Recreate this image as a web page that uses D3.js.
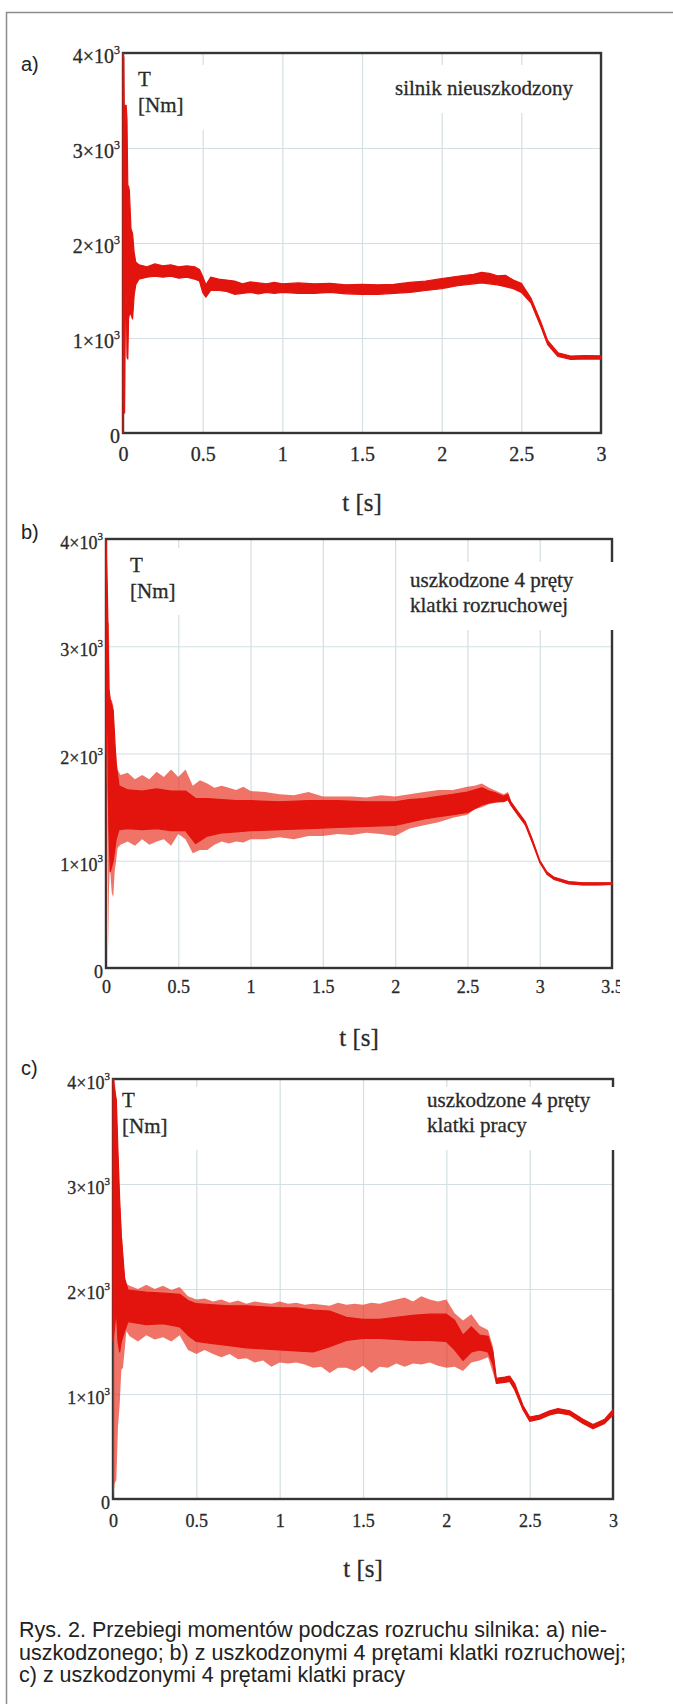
<!DOCTYPE html>
<html>
<head>
<meta charset="utf-8">
<script src="https://cdn.jsdelivr.net/npm/d3@7"></script>
<style>
  body { margin: 0; background: #fff; }
  svg { display: block; }
  .serif { font-family: 'Liberation Serif', 'Times New Roman', serif; fill: #2a2a2a; stroke: #2a2a2a; stroke-width: 0.3px; }
</style>
</head>
<body>
<div id="chart"></div>
<script>
// ---- data (torque T in Nm vs time t in s) ----
const yTicks = [0, 1000, 2000, 3000, 4000];
const yTickBase = ["0", "1×10", "2×10", "3×10", "4×10"];
const yTickExp = ["", "3", "3", "3", "3"];

const xTicks3 = [0, 0.5, 1, 1.5, 2, 2.5, 3];
const xLabels3 = ["0", "0.5", "1", "1.5", "2", "2.5", "3"];
const xTicks35 = [0, 0.5, 1, 1.5, 2, 2.5, 3, 3.5];
const xLabels35 = ["0", "0.5", "1", "1.5", "2", "2.5", "3", "3.5"];

// a) healthy motor: band (upper / lower edge of the trace)
const tA = [0, 0.005, 0.01, 0.015, 0.02, 0.025, 0.03, 0.035, 0.04, 0.05, 0.06, 0.07, 0.08, 0.1,
  0.15, 0.2, 0.25, 0.3, 0.35, 0.4, 0.45, 0.48, 0.5, 0.52, 0.55, 0.6, 0.65, 0.7, 0.75, 0.8, 0.85,
  0.9, 0.95, 1, 1.1, 1.2, 1.3, 1.4, 1.5, 1.6, 1.7, 1.8, 1.9, 2, 2.1, 2.2, 2.25, 2.3, 2.35, 2.4,
  2.45, 2.5, 2.56, 2.62, 2.665, 2.73, 2.81, 2.9, 3];
const hiA = [4000, 3950, 3000, 3450, 3450, 3300, 2600, 2600, 2550, 2150, 2100, 1900, 1800, 1770,
  1750, 1780, 1760, 1770, 1750, 1760, 1750, 1720, 1650, 1560, 1640, 1620, 1610, 1600, 1570, 1590, 1580,
  1570, 1585, 1570, 1580, 1570, 1575, 1560, 1565, 1560, 1565, 1585, 1600, 1625, 1650, 1670, 1690, 1680, 1655, 1660,
  1610, 1575, 1420, 1180, 975, 845, 810, 815, 812];
const loA = [0, 1500, 210, 1300, 1500, 800, 780, 1200, 1250, 1250, 1200, 1450, 1560, 1620,
  1640, 1650, 1640, 1650, 1630, 1640, 1620, 1600, 1480, 1430, 1500, 1500, 1490, 1460, 1470, 1480, 1465,
  1480, 1470, 1480, 1470, 1470, 1480, 1465, 1460, 1460, 1470, 1480, 1500, 1520, 1550, 1570, 1580, 1570, 1560, 1540,
  1520, 1480, 1370, 1130, 930, 805, 775, 780, 778];

// b) 4 broken bars of the starting cage: outer spikes and dense core
const tB = [0, 0.005, 0.01, 0.015, 0.02, 0.025, 0.03, 0.04, 0.05, 0.06, 0.07, 0.08, 0.1, 0.15,
  0.2, 0.25, 0.3, 0.35, 0.4, 0.45, 0.5, 0.55, 0.6, 0.65, 0.7, 0.75, 0.8, 0.85, 0.9, 0.95, 1,
  1.1, 1.2, 1.3, 1.4, 1.5, 1.6, 1.7, 1.8, 1.9, 2, 2.1, 2.2, 2.3, 2.4, 2.5, 2.55, 2.6, 2.65, 2.7,
  2.75, 2.78, 2.8, 2.85, 2.9, 2.95, 3, 3.05, 3.1, 3.2, 3.3, 3.4, 3.5];
const hiB = [4000, 3950, 3480, 3220, 3220, 2600, 2500, 2500, 2450, 2100, 2000, 1850, 1800, 1820,
  1760, 1800, 1760, 1830, 1780, 1850, 1780, 1850, 1700, 1750, 1720, 1680, 1700, 1680, 1660, 1690, 1650,
  1640, 1620, 1610, 1640, 1600, 1600, 1600, 1590, 1610, 1600, 1620, 1640, 1660, 1660, 1690, 1700, 1720, 1680, 1650,
  1620, 1640, 1560, 1460, 1370, 1200, 1010, 900, 850, 810, 800, 800, 800];
const loB = [0, 1800, 1500, 150, 700, 900, 885, 700, 660, 900, 1000, 1120, 1150, 1180,
  1140, 1200, 1150, 1180, 1200, 1140, 1250, 1200, 1070, 1100, 1100, 1150, 1180, 1160, 1180, 1170, 1200,
  1200, 1220, 1200, 1230, 1230, 1250, 1240, 1260, 1250, 1230, 1300, 1330, 1360, 1400, 1430, 1480, 1500, 1530, 1540,
  1550, 1580, 1510, 1420, 1330, 1160, 980, 870, 820, 780, 770, 770, 775];
const tCoreB = [0, 0.01, 0.02, 0.03, 0.05, 0.07, 0.09, 0.15, 0.25, 0.35, 0.45, 0.55, 0.62, 0.7,
  0.8, 0.9, 1, 1.2, 1.4, 1.6, 1.8, 2, 2.1, 2.2, 2.3, 2.4, 2.5, 2.6, 2.65, 2.7, 2.75, 2.78, 2.8,
  2.85, 2.9, 2.95, 3, 3.05, 3.1, 3.2, 3.3, 3.4, 3.5];
const coreHiB = [3990, 3480, 2600, 2500, 2400, 1900, 1700, 1660, 1650, 1670, 1650, 1650, 1580, 1580,
  1570, 1560, 1560, 1550, 1560, 1560, 1550, 1550, 1570, 1580, 1600, 1620, 1640, 1680, 1650, 1630, 1600, 1620, 1550,
  1455, 1365, 1195, 1005, 895, 845, 805, 795, 795, 795];
const coreLoB = [2000, 2500, 1300, 900, 1000, 1200, 1290, 1300, 1290, 1300, 1280, 1280, 1160, 1230,
  1260, 1270, 1280, 1290, 1300, 1310, 1320, 1330, 1360, 1390, 1410, 1430, 1450, 1520, 1540, 1550, 1550, 1570, 1520,
  1425, 1335, 1165, 985, 875, 825, 785, 775, 775, 780];

// c) 4 broken bars of the working cage
const tC = [0, 0.01, 0.02, 0.03, 0.04, 0.05, 0.06, 0.07, 0.08, 0.1, 0.15, 0.2, 0.25, 0.3, 0.35,
  0.4, 0.45, 0.5, 0.55, 0.6, 0.65, 0.7, 0.75, 0.8, 0.85, 0.9, 0.95, 1, 1.05, 1.1, 1.15, 1.2,
  1.25, 1.3, 1.35, 1.4, 1.45, 1.5, 1.55, 1.6, 1.65, 1.7, 1.75, 1.8, 1.85, 1.9, 1.95, 2, 2.05,
  2.1, 2.15, 2.2, 2.25, 2.28, 2.3, 2.35, 2.38, 2.41, 2.46, 2.5, 2.56, 2.62, 2.67, 2.74, 2.82,
  2.88, 2.95, 3];
const hiC = [4000, 4000, 3800, 3300, 2850, 2600, 2350, 2100, 2050, 2030, 2000, 2040, 2000, 2030, 1990,
  2020, 1930, 1900, 1910, 1880, 1900, 1870, 1890, 1860, 1880, 1870, 1860, 1880, 1860, 1870, 1850, 1860,
  1850, 1840, 1870, 1850, 1860, 1850, 1870, 1860, 1880, 1900, 1920, 1880, 1930, 1900, 1880, 1900, 1770,
  1700, 1760, 1650, 1610, 1450, 1150, 1160, 1170, 1100, 890, 780, 800, 840, 860, 840, 760,
  710, 760, 850];
const loC = [0, 150, 180, 690, 900, 1230, 1250, 1420, 1600, 1550, 1500, 1560, 1520, 1540, 1500,
  1560, 1420, 1380, 1420, 1380, 1350, 1380, 1330, 1340, 1300, 1320, 1260, 1300, 1290, 1300, 1280, 1250,
  1260, 1200, 1250, 1250, 1220, 1270, 1200, 1260, 1250, 1290, 1260, 1290, 1280, 1300, 1270, 1250, 1260,
  1220, 1300, 1320, 1350, 1200, 1100, 1110, 1120, 1040, 850, 740, 760, 800, 820, 800, 720,
  670, 720, 800];
const tCoreC = [0, 0.02, 0.03, 0.04, 0.05, 0.07, 0.09, 0.2, 0.3, 0.4, 0.45, 0.5, 0.6, 0.7, 0.8,
  0.9, 1, 1.1, 1.2, 1.3, 1.4, 1.5, 1.6, 1.7, 1.8, 1.9, 2, 2.05, 2.1, 2.15, 2.2, 2.25, 2.28, 2.3,
  2.35, 2.38, 2.41, 2.46, 2.5, 2.56, 2.62, 2.67, 2.74, 2.82, 2.88, 2.95, 3];
const coreHiC = [4000, 3800, 3300, 2850, 2500, 2100, 1990, 1970, 1960, 1950, 1890, 1860, 1850, 1840, 1840,
  1830, 1820, 1820, 1800, 1790, 1730, 1710, 1710, 1730, 1750, 1760, 1760, 1700, 1560, 1640, 1560, 1550, 1400, 1150,
  1160, 1170, 1100, 890, 780, 800, 840, 860, 840, 760, 710, 760, 850];
const coreLoC = [1500, 1800, 1500, 1400, 1500, 1600, 1690, 1660, 1670, 1640, 1560, 1500, 1480, 1460, 1440,
  1430, 1420, 1410, 1400, 1450, 1510, 1530, 1530, 1520, 1510, 1510, 1500, 1420, 1320, 1400, 1420, 1400, 1280, 1100,
  1110, 1120, 1040, 850, 740, 760, 800, 820, 800, 720, 670, 720, 800];

const notes = [["silnik nieuszkodzony"], ["uszkodzone 4 pręty", "klatki rozruchowej"], ["uszkodzone 4 pręty", "klatki pracy"]];
const panelLabels = ["a)", "b)", "c)"];
const caption = [
  "Rys. 2. Przebiegi momentów podczas rozruchu silnika: a) nie-",
  "uszkodzonego; b) z uszkodzonymi 4 prętami klatki rozruchowej;",
  "c) z uszkodzonymi 4 prętami klatki pracy"
];

// ---- layout ----
const W = 673, H = 1704;
const RED = "#e2140d";
const sans = "'Liberation Sans', Arial, sans-serif";

const panels = [
  {left: 123, right: 601, top: 53, bottom: 433, xMax: 3, xTicks: xTicks3, xLabels: xLabels3, fs: 20,
   xLabOff: 28, env: null, core: [tA, hiA, loA], note: notes[0], noteX: 395, noteY: 95,
   noteBox: [386, 65, 208, 48], tBox: [127, 65, 90, 65], tX: 138, tY: 86, label: panelLabels[0], labelY: 71, clipX: null},
  {left: 106, right: 612, top: 539, bottom: 968, xMax: 3.5, xTicks: xTicks35, xLabels: xLabels35, fs: 18,
   xLabOff: 25, env: [tB, hiB, loB], core: [tCoreB, coreHiB, coreLoB], note: notes[1], noteX: 410, noteY: 587,
   noteBox: [400, 562, 222, 68], tBox: [110, 548, 92, 67], tX: 130, tY: 572, label: panelLabels[1], labelY: 539, clipX: 620},
  {left: 113, right: 613, top: 1079, bottom: 1499, xMax: 3, xTicks: xTicks3, xLabels: xLabels3, fs: 18,
   xLabOff: 28, env: [tC, hiC, loC], core: [tCoreC, coreHiC, coreLoC], note: notes[2], noteX: 427, noteY: 1107,
   noteBox: [418, 1087, 202, 63], tBox: [117, 1087, 92, 63], tX: 122, tY: 1107, label: panelLabels[2], labelY: 1075, clipX: null}
];

const svg = d3.select("#chart").append("svg")
    .attr("width", W)
    .attr("height", H);

// outer figure frame (runs off the right/bottom edge)
svg.append("rect")
    .attr("x", 6.5).attr("y", 12.5)
    .attr("width", W + 20).attr("height", H + 20)
    .attr("fill", "none")
    .attr("stroke", "#8c8c8c")
    .attr("stroke-width", 1.5);

function toRows(cols) {
  return cols[0].map((t, i) => ({t: t, hi: cols[1][i], lo: cols[2][i]}));
}

panels.forEach((p, k) => {
  const g = svg.append("g");
  const x = d3.scaleLinear().domain([0, p.xMax]).range([p.left, p.right]);
  const y = d3.scaleLinear().domain([0, 4000]).range([p.bottom, p.top]);
  const h = p.bottom - p.top, w = p.right - p.left;

  // gridlines
  const gx = g.append("g")
      .attr("transform", `translate(0,${p.bottom})`)
      .call(d3.axisBottom(x).tickValues(p.xTicks).tickSize(-h).tickFormat(""));
  const gy = g.append("g")
      .attr("transform", `translate(${p.left},0)`)
      .call(d3.axisLeft(y).tickValues(yTicks).tickSize(-w).tickFormat(""));
  [gx, gy].forEach(a => {
    a.select(".domain").remove();
    a.selectAll("line").attr("stroke", "#d3dfe2").attr("stroke-width", 1.2);
  });

  // plot frame
  g.append("rect")
      .attr("x", p.left).attr("y", p.top)
      .attr("width", w).attr("height", h)
      .attr("fill", "none")
      .attr("stroke", "#353535")
      .attr("stroke-width", 2.4);

  // white boxes behind the in-plot texts
  [p.noteBox, p.tBox].forEach(b => {
    g.append("rect").attr("x", b[0]).attr("y", b[1]).attr("width", b[2]).attr("height", b[3]).attr("fill", "#fff");
  });

  const area = d3.area()
      .x(d => x(d.t))
      .y0(d => y(d.lo))
      .y1(d => y(d.hi));

  if (p.env) {
    g.append("path")
        .datum(toRows(p.env))
        .attr("d", area)
        .attr("fill", "#e8301f")
        .attr("fill-opacity", 0.68);
  }
  g.append("path")
      .datum(toRows(p.core))
      .attr("d", area)
      .attr("fill", RED)
      .attr("stroke", RED)
      .attr("stroke-width", 1.2)
      .attr("stroke-linejoin", "round");

  // x tick labels
  let clip = null;
  if (p.clipX) {
    svg.append("clipPath").attr("id", "clip" + k)
      .append("rect").attr("x", 0).attr("y", 0).attr("width", p.clipX).attr("height", H);
    clip = `url(#clip${k})`;
  }
  const ax = g.append("g")
      .attr("transform", `translate(0,${p.bottom})`)
      .attr("clip-path", clip)
      .call(d3.axisBottom(x).tickValues(p.xTicks).tickSize(0).tickFormat((d, i) => p.xLabels[i]));
  ax.select(".domain").remove();
  ax.selectAll("text")
      .attr("y", p.xLabOff).attr("dy", null)
      .attr("fill", null)
      .attr("class", "serif")
      .style("font-size", p.fs + "px");
  ax.attr("font-family", null);

  // y tick labels with superscript exponent
  const yl = g.append("g").selectAll("text")
      .data(yTicks)
      .enter().append("text")
      .attr("class", "serif")
      .attr("x", p.left - 3)
      .attr("y", d => y(d) + 10)
      .attr("text-anchor", "end")
      .style("font-size", p.fs + "px");
  yl.append("tspan").text((d, i) => yTickBase[i]);
  yl.append("tspan")
      .attr("dy", -9)
      .style("font-size", Math.round(p.fs * 0.62) + "px")
      .text((d, i) => yTickExp[i]);

  // axis name inside the plot
  g.append("text").attr("class", "serif").attr("x", p.tX).attr("y", p.tY)
      .style("font-size", "21px").text("T");
  g.append("text").attr("class", "serif").attr("x", p.tX).attr("y", p.tY + 26)
      .style("font-size", "21px").text("[Nm]");

  // case note
  p.note.forEach((line, i) => {
    g.append("text").attr("class", "serif").attr("x", p.noteX).attr("y", p.noteY + i * 25)
        .style("font-size", "21px").text(line);
  });

  // x axis title
  g.append("text")
      .attr("class", "serif")
      .attr("x", (p.left + p.right) / 2)
      .attr("y", p.bottom + 78)
      .attr("text-anchor", "middle")
      .style("font-size", "25px")
      .text("t [s]");

  // panel letter
  g.append("text").attr("x", 21).attr("y", p.labelY)
      .attr("fill", "#222").style("font-family", sans).style("font-size", "20px").text(p.label);
});

// caption
svg.append("g").selectAll("text")
    .data(caption)
    .enter().append("text")
    .attr("x", 19)
    .attr("y", (d, i) => 1637 + i * 22.5)
    .attr("fill", "#222")
    .style("font-family", sans)
    .style("font-size", "21.5px")
    .text(d => d);
</script>
</body>
</html>
